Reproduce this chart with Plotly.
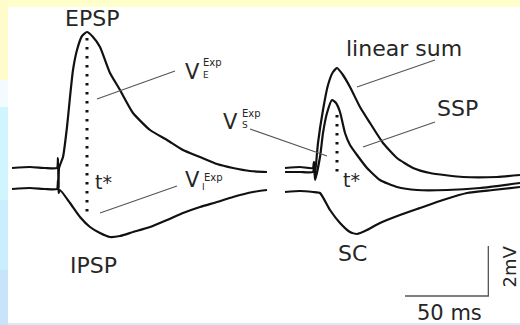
import plotly.graph_objects as go

# ---------------- data (time in ms, membrane potential in mV) ----------------
epsp_t = [-27.6, -16.8, -7.8, -0.6, 0.0, 0.3, 0.6, 1.2, 3.0, 5.4, 7.2, 9.0, 11.4, 14.4, 17.4,
          21.0, 25.2, 31.2, 37.2, 45.0, 55.2, 65.4, 75.0, 85.2, 95.4, 105.0, 115.2, 125.4]
epsp_v = [0.0, 0.04, 0.0, 0.0, 0.4, -0.8, 0.0, 0.12, 0.44, 1.64, 2.84, 3.92, 4.72, 5.28, 5.44,
          5.24, 4.84, 3.8, 3.12, 2.2, 1.52, 1.12, 0.72, 0.44, 0.16, 0.0, -0.12, -0.16]

ipsp_t = [-27.6, -16.8, -7.8, -0.6, 0.0, 0.4, 1.2, 7.2, 13.2, 19.2, 25.2, 31.2, 37.2, 45.0,
          55.2, 65.4, 75.0, 85.2, 95.4, 105.0, 117.0, 125.4]
ipsp_v = [-0.84, -0.8, -0.84, -0.84, -0.48, -1.0, -0.88, -1.4, -1.96, -2.36, -2.6, -2.76, -2.72,
          -2.56, -2.36, -2.08, -1.8, -1.56, -1.36, -1.16, -0.96, -0.88]

linsum_t = [136.2, 145.2, 153.0, 153.6, 154.2, 156.0, 159.0, 162.0, 165.0, 167.4, 171.0, 175.2,
            181.2, 187.2, 195.0, 203.4, 213.0, 223.2, 243.0, 263.4, 277.2]
linsum_v = [0.0, 0.04, 0.0, 0.24, -0.24, 1.0, 2.32, 3.32, 3.84, 4.0, 3.72, 3.24,
            2.44, 1.8, 1.0, 0.4, 0.0, -0.2, -0.36, -0.36, -0.28]

ssp_t = [136.2, 145.2, 153.0, 153.6, 154.2, 157.2, 159.0, 161.4, 164.4, 166.8, 169.2, 172.2,
         175.2, 179.4, 185.4, 193.2, 203.4, 215.4, 233.4, 253.2, 277.2]
ssp_v = [-0.16, -0.16, -0.16, 0.24, -0.48, 0.44, 1.4, 2.2, 2.72, 2.6, 2.24, 1.4,
         0.92, 0.52, 0.0, -0.48, -0.76, -0.88, -0.88, -0.8, -0.6]

sc_t = [136.2, 145.2, 153.0, 157.2, 163.2, 169.2, 175.2, 179.4, 185.4, 193.2, 205.2, 217.2,
        231.0, 245.4, 261.0, 277.2]
sc_v = [-0.96, -0.92, -0.96, -1.0, -1.68, -2.2, -2.56, -2.64, -2.48, -2.2, -1.88, -1.6,
        -1.28, -1.0, -0.88, -0.76]

tstar_t = [17.4, 167.4]
tstar_top = [5.2, 2.12]
tstar_bottom = [-1.96, -0.2]

scale_ms = 50
scale_mv = 2

# ---------------- figure ----------------
fig = go.Figure()

trace_style = dict(mode="lines", line=dict(color="#111111", width=2.2, shape="spline", smoothing=0.5),
                   hoverinfo="skip", showlegend=False)
for tt, vv in [(epsp_t, epsp_v), (ipsp_t, ipsp_v), (linsum_t, linsum_v), (ssp_t, ssp_v), (sc_t, sc_v)]:
    fig.add_trace(go.Scatter(x=tt, y=vv, **trace_style))

# t* dotted markers
for t, top, bot in zip(tstar_t, tstar_top, tstar_bottom):
    fig.add_trace(go.Scatter(x=[t, t], y=[top, bot], mode="lines",
                             line=dict(color="#111111", width=3, dash="2.5px,6.5px"),
                             hoverinfo="skip", showlegend=False))

# scale bar
sb_t0, sb_v0 = 208.2, -5.12
fig.add_trace(go.Scatter(x=[sb_t0, sb_t0 + scale_ms, sb_t0 + scale_ms],
                         y=[sb_v0, sb_v0, sb_v0 + scale_mv], mode="lines",
                         line=dict(color="#555555", width=1.3), hoverinfo="skip", showlegend=False))

# leader lines
leaders = [((23.4, 2.76), (70.2, 3.88)),
           ((25.2, -1.8), (71.4, -0.72)),
           ((115.2, 1.56), (161.4, 0.48)),
           ((179.4, 3.24), (226.2, 4.32)),
           ((183.0, 0.84), (226.2, 1.84))]
shapes = []
for (x0, y0), (x1, y1) in leaders:
    shapes.append(dict(type="line", xref="x", yref="y", x0=x0, y0=y0, x1=x1, y1=y1,
                       line=dict(color="#555555", width=1.1)))

# background decoration (slide frame)
W, H = 520, 325
def prect(x0, y0, x1, y1, color):
    return dict(type="rect", xref="paper", yref="paper", layer="below",
                x0=x0 / W, x1=x1 / W, y0=1 - y1 / H, y1=1 - y0 / H,
                fillcolor=color, line=dict(width=0))

bg = [prect(0, 0, 520, 325, "#D6ECFD"),
      prect(0, 0, 520, 8, "#FFFFCC"),
      prect(0, 0, 8, 80, "#FFFCCC"),
      prect(0, 80, 8, 107, "#F4FBFF"),
      prect(0, 107, 8, 200, "#CFF5FF"),
      prect(0, 200, 8, 270, "#CBEEFF"),
      prect(0, 270, 8, 325, "#C8E4FA"),
      prect(8, 7, 520, 323, "#FFFFFF")]
shapes = bg + shapes

TXT = "#262626"
FONT = "DejaVu Sans"
def lab(x, y, text, size, angle=0):
    return dict(x=x, y=y, xref="x", yref="y", text=text, showarrow=False,
                xanchor="center", yanchor="middle", textangle=angle,
                font=dict(family=FONT, size=size, color=TXT))

annotations = [
    lab(20.4, 6.0, "EPSP", 22),
    lab(21.0, -3.88, "IPSP", 22),
    lab(27.0, -0.56, "t*", 19),
    lab(175.8, -0.48, "t*", 19),
    lab(207.6, 4.8, "linear sum", 22),
    lab(239.4, 2.4, "SSP", 22),
    lab(176.4, -3.4, "SC", 22),
    lab(234.6, -5.8, "50 ms", 21),
    lab(270.3, -3.96, "2mV", 18, -90),
    # V_E^Exp
    lab(80.4, 3.86, "V", 21),
    lab(92.6, 4.22, "Exp", 10),
    lab(88.6, 3.74, "E", 9),
    # V_I^Exp
    lab(80.4, -0.48, "V", 21),
    lab(93.2, -0.36, "Exp", 10),
    lab(87.4, -0.74, "I", 9),
    # V_S^Exp
    lab(103.2, 1.86, "V", 21),
    lab(116.0, 2.2, "Exp", 10),
    lab(112.0, 1.72, "S", 9),
]

fig.update_layout(
    width=W, height=H,
    margin=dict(l=0, r=0, t=0, b=0),
    paper_bgcolor="#FFFFFF",
    plot_bgcolor="rgba(0,0,0,0)",
    xaxis=dict(range=[-34.8, 277.2], visible=False, fixedrange=True),
    yaxis=dict(range=[-6.28, 6.72], visible=False, fixedrange=True),
    shapes=shapes,
    annotations=annotations,
    showlegend=False,
)

fig.write_html("out.html", config={"displayModeBar": False, "staticPlot": True},
               post_script="document.body.style.margin='0px';document.body.style.overflow='hidden';")
